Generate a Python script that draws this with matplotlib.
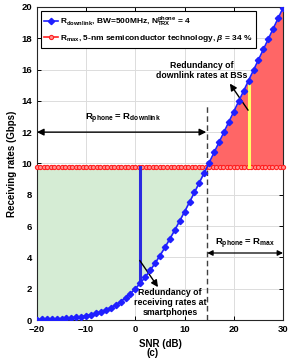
import numpy as np
import matplotlib
matplotlib.use("Agg")
import matplotlib.pyplot as plt

plt.rcParams['font.family'] = ['Liberation Sans', 'DejaVu Sans']
plt.rcParams['font.weight'] = 'bold'
plt.rcParams['mathtext.fontset'] = 'custom'
plt.rcParams['mathtext.rm'] = 'Liberation Sans:bold'
plt.rcParams['mathtext.it'] = 'Liberation Sans:italic:bold'
plt.rcParams['mathtext.bf'] = 'Liberation Sans:bold'

# ---- data ----
snr_db = list(range(-20, 31))
r_downlink = [0.029, 0.036, 0.045, 0.057, 0.072, 0.090, 0.113, 0.141, 0.177, 0.221,
              0.275, 0.342, 0.425, 0.525, 0.647, 0.793, 0.967, 1.172, 1.412, 1.687,
              2.000, 2.351, 2.740, 3.165, 3.625, 4.115, 4.633, 5.176, 5.740, 6.322,
              6.919, 7.529, 8.149, 8.778, 9.414, 10.056, 10.702, 11.352, 12.004, 12.660,
              13.316, 13.975, 14.635, 15.295, 15.957, 16.619, 17.281, 17.944, 18.608, 19.271,
              19.934]
r_max_value = 9.8
rmax_snr = list(np.linspace(-20, 30, 71))
r_max = [r_max_value] * len(rmax_snr)

crossing_snr = 14.6
redund_phone_snr = 1.0
redund_phone_low = 2.35
redund_bs_snr = 23.0
redund_bs_high = 15.3

x_ticks = [-20, -10, 0, 10, 20, 30]
y_ticks = [0, 2, 4, 6, 8, 10, 12, 14, 16, 18, 20]

# ---- figure ----
fig = plt.figure(figsize=(3.05, 3.62), dpi=100)
ax = fig.add_axes([0.121, 0.116, 0.807, 0.865])

snr_arr = np.array(snr_db, dtype=float)
rd_arr = np.array(r_downlink)
rm_arr = np.full_like(snr_arr, r_max_value)

ax.fill_between(snr_arr, rd_arr, rm_arr, where=rd_arr <= rm_arr, interpolate=True,
                color='#d5ecd4', linewidth=0, zorder=1)
ax.fill_between(snr_arr, rd_arr, rm_arr, where=rd_arr >= rm_arr, interpolate=True,
                color='#ff6666', linewidth=0, zorder=1)

ax.plot(snr_db, r_downlink, color='#1f1fff', lw=1.2, marker='D', ms=3.2,
        mfc='#1f1fff', mec='#1f1fff', zorder=4,
        label=r'R$_{\mathrm{downlink}}$, BW=500MHz, N$_{\mathrm{TRX}}^{\mathrm{phone}}$ = 4')
ax.plot(rmax_snr, r_max, color='#ff2020', lw=1.2, marker='o', ms=3.0,
        mfc='#ff9090', mec='#ff2020', mew=0.8, zorder=3, clip_on=False,
        label=r'R$_{\mathrm{max}}$, 5-nm semiconductor technology, $\beta$ = 34 %')

# redundancy lines
ax.plot([redund_phone_snr, redund_phone_snr], [redund_phone_low, r_max_value],
        color='#2a2ae0', lw=2.2, zorder=3)
ax.plot([redund_bs_snr, redund_bs_snr], [r_max_value, redund_bs_high],
        color='#ffff66', lw=2.2, zorder=3)

# dashed separator
ax.plot([crossing_snr, crossing_snr], [0, 13.7], color='#404040', lw=1.0,
        ls=(0, (4, 2.5)), zorder=2)

# double arrows
ax.annotate('', xy=(-20, 12), xytext=(crossing_snr - 0.2, 12),
            arrowprops=dict(arrowstyle='<|-|>', color='black', lw=1.0,
                            mutation_scale=10, shrinkA=0, shrinkB=0))
ax.text(-2.5, 12.85, r'R$_{\mathrm{phone}}$ = R$_{\mathrm{downlink}}$', ha='center',
        va='center', fontsize=6.8, fontweight='bold')
ax.annotate('', xy=(crossing_snr, 4.28), xytext=(30, 4.28),
            arrowprops=dict(arrowstyle='<|-|>', color='black', lw=0.9,
                            mutation_scale=8, shrinkA=0, shrinkB=0))
ax.text(22.3, 4.85, r'R$_{\mathrm{phone}}$ = R$_{\mathrm{max}}$', ha='center',
        va='center', fontsize=6.8, fontweight='bold')

# annotation arrows
ax.annotate('', xy=(19.2, 15.1), xytext=(22.9, 13.4),
            arrowprops=dict(arrowstyle='-|>', color='black', lw=1.0,
                            mutation_scale=10, shrinkA=0, shrinkB=0))
ax.text(13.5, 15.35, 'Redundancy of\ndownlink rates at BSs', ha='center',
        va='bottom', fontsize=6.3, fontweight='bold', linespacing=1.15)
ax.annotate('', xy=(4.6, 2.1), xytext=(0.9, 3.8),
            arrowprops=dict(arrowstyle='-|>', color='black', lw=1.0,
                            mutation_scale=10, shrinkA=0, shrinkB=0))
ax.text(7.0, 0.2, 'Redundancy of\nreceiving rates at\nsmartphones', ha='center',
        va='bottom', fontsize=6.3, fontweight='bold', linespacing=1.15)

ax.set_xlim(-20, 30)
ax.set_ylim(0, 20)
ax.set_xticks(x_ticks)
ax.set_yticks(y_ticks)
ax.tick_params(direction='in', top=True, right=True, labelsize=6.8, length=3, width=0.7)
for lab in ax.get_xticklabels() + ax.get_yticklabels():
    lab.set_fontweight('bold')
ax.grid(True, color='#dcdcdc', lw=0.7)
ax.set_axisbelow(True)
for s in ax.spines.values():
    s.set_linewidth(0.8)
    s.set_color('#262626')

ax.set_xlabel('SNR (dB)', fontsize=7, fontweight='bold', labelpad=4)
ax.set_ylabel('Receiving rates (Gbps)', fontsize=7, fontweight='bold', labelpad=3)

leg = ax.legend(loc='upper left', fontsize=6.0, frameon=True, fancybox=False,
                edgecolor='black', framealpha=1, handlelength=1.6, handletextpad=0.3,
                borderpad=0.45, labelspacing=0.55, borderaxespad=0.45)
leg.get_frame().set_linewidth(0.8)
for t in leg.get_texts():
    t.set_fontweight('bold')

fig.text(0.5, 0.025, '(c)', ha='center', va='center', fontsize=7, fontweight='bold')

fig.savefig('out.png', dpi=100)
